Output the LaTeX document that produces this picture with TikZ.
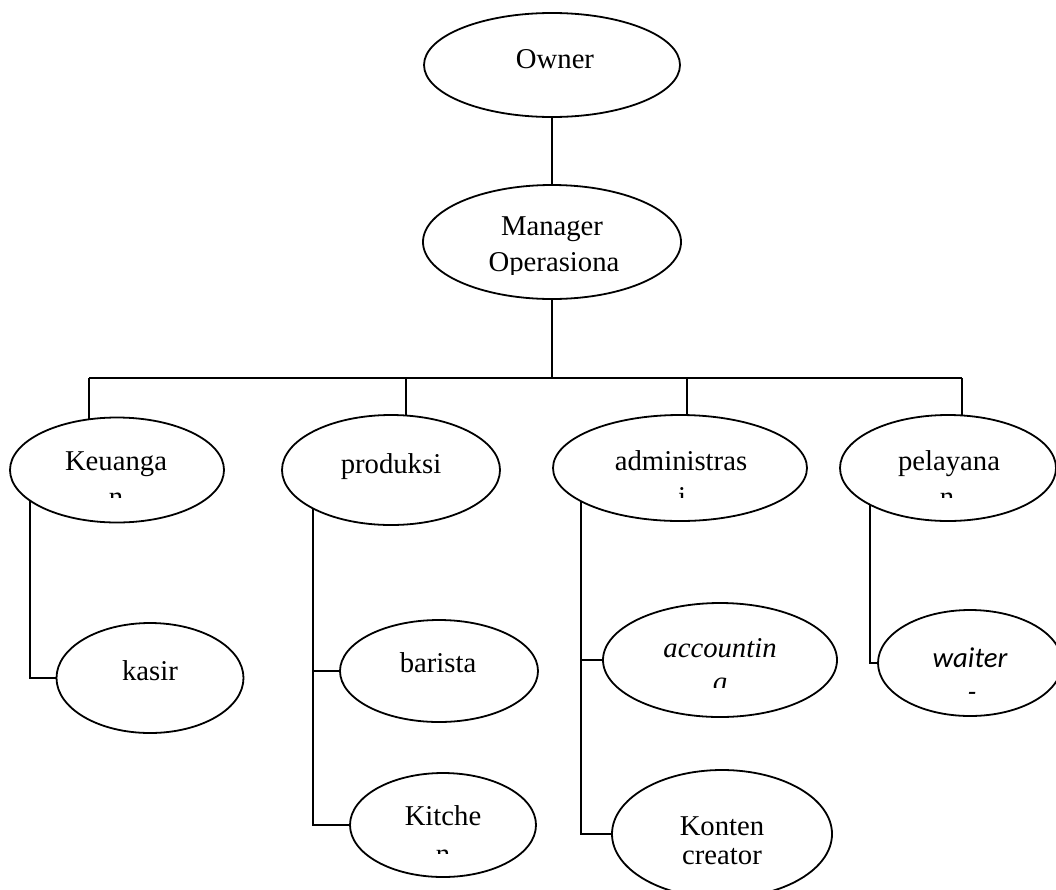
\documentclass[tikz,border=0pt]{standalone}
\usepackage{fontspec}
\setmainfont{Liberation Serif}
\newfontfamily\calfont{Carlito}
\usetikzlibrary{shapes.geometric,backgrounds}
\begin{document}
\begin{tikzpicture}[x=1pt,y=-1pt,
  ell/.style={draw, ellipse, line width=1.8pt, inner sep=0pt, fill=white},
  txt/.style={anchor=base, inner sep=0pt, font=\fontsize{28.7}{34}\selectfont},
  itxt/.style={anchor=base, inner sep=0pt, font=\fontsize{28.7}{34}\selectfont\itshape},
  ctxt/.style={anchor=base, inner sep=0pt, font=\fontsize{28.7}{34}\selectfont\calfont\itshape},
  conn/.style={line width=1.4pt},
  bus/.style={line width=2pt}]
\useasboundingbox (0,0) rectangle (1056,889);
\clip (0,0) rectangle (1056,889);

% ellipses
\node[ell, minimum width=256, minimum height=104] (owner) at (552,65) {};
\node[ell, minimum width=258, minimum height=114] (mgr) at (552,242) {};
\node[ell, minimum width=214, minimum height=105] (keu) at (117,470) {};
\node[ell, minimum width=218, minimum height=110] (prod) at (391,470) {};
\node[ell, minimum width=254, minimum height=106] (adm) at (680,468) {};
\node[ell, minimum width=216, minimum height=106] (pel) at (948,468) {};
\node[ell, minimum width=187, minimum height=110] (kasir) at (150,678) {};
\node[ell, minimum width=198, minimum height=102] (bar) at (439,671) {};
\node[ell, minimum width=186, minimum height=104] (kit) at (443,825) {};
\node[ell, minimum width=234, minimum height=114] (acc) at (720,660) {};
\node[ell, minimum width=220, minimum height=128] (kon) at (722,834) {};
\node[ell, minimum width=184, minimum height=106] (wai) at (970,663) {};

% connector points
\coordinate (busL) at (89,378);
\coordinate (d2) at (406,378);
\coordinate (d3) at (687,378);
\coordinate (busR) at (962,378);
\coordinate (kx) at (30,470);
\coordinate (px) at (313,470);
\coordinate (ax) at (581,468);
\coordinate (lx) at (870,468);

\begin{pgfonlayer}{background}
  \draw[conn] (owner.center) -- (mgr.center);
  \draw[conn] (mgr.center) -- (mgr.center |- busL);
  \draw[bus] (busL) -- (busR);
  \draw[conn] (busL) -- (busL |- keu.center);
  \draw[conn] (d2) -- (d2 |- prod.center);
  \draw[conn] (d3) -- (d3 |- adm.center);
  \draw[conn] (busR) -- (busR |- pel.center);
  \draw[conn] (kx) |- (kasir.center);
  \draw[conn] (px) |- (bar.center);
  \draw[conn] (px) |- (kit.center);
  \draw[conn] (ax) |- (acc.center);
  \draw[conn] (ax) |- (kon.center);
  \draw[conn] (lx) |- (wai.center);
\end{pgfonlayer}

% texts
\node[txt] (tOwner) at (555,68) {Owner};
\node[txt] (tMgr1) at (552,235) {Manager};
\begin{scope}
  \clip (440,240) rectangle (670,274);
  \node[txt] (tMgr2) at (554,271) {Operasiona};
\end{scope}
\node[txt] (tKeu1) at (116,470) {Keuanga};
\begin{scope}
  \clip (20,480) rectangle (220,497.5);
  \node[txt] (tKeu2) at (116,506) {n};
\end{scope}
\node[txt] (tProd) at (391,473) {produksi};
\node[txt] (tAdm1) at (681,470) {administras};
\begin{scope}
  \clip (560,480) rectangle (800,497.5);
  \node[txt] (tAdm2) at (682,506) {i};
\end{scope}
\node[txt] (tPel1) at (949,470) {pelayana};
\begin{scope}
  \clip (850,480) rectangle (1050,497.5);
  \node[txt] (tPel2) at (947,506) {n};
\end{scope}
\node[txt] (tKasir) at (150,680) {kasir};
\node[txt] (tBar) at (438,672) {barista};
\node[txt] (tKit1) at (443,825) {Kitche};
\begin{scope}
  \clip (360,835) rectangle (530,853);
  \node[txt] (tKit2) at (443,863) {n};
\end{scope}
\node[itxt] (tAcc1) at (720,657) {accountin};
\begin{scope}
  \clip (620,667) rectangle (820,687);
  \node[itxt] (tAcc2) at (720,691) {g};
\end{scope}
\node[ctxt] (tWai1) at (970,667) {waiter};
\node[ctxt] (tWai2) at (972,701) {-};
\node[txt] (tKon1) at (722,835) {Konten};
\node[txt] (tKon2) at (722,864) {creator};
\end{tikzpicture}
\end{document}
